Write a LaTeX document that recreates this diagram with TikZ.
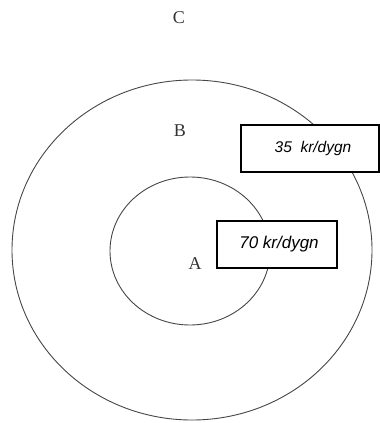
\documentclass[tikz,border=0pt]{standalone}
\usepackage{fontspec}
\setmainfont{Liberation Serif}
\setsansfont{Liberation Sans}
\usetikzlibrary{shapes.geometric,positioning}
\definecolor{ringgray}{RGB}{70, 70, 70}

\begin{document}
\begin{tikzpicture}[x=1pt, y=-1pt,
    ring/.style={draw=ringgray, line width=0.9pt, ellipse, inner sep=0pt},
    zone/.style={font=\fontsize{18}{20}\selectfont, text=black!80},
    pricebox/.style={draw=black, line width=1.6pt, fill=white, rectangle, inner sep=0pt}]
    \useasboundingbox (0,0) rectangle (380,423);
    \node [ring, minimum width=360pt, minimum height=340pt] (outer) at (192,250) {};
    \node [ring, minimum width=160pt, minimum height=148pt] (inner) at (190,251) {};

    \node [zone] (zoneC) at (179,18) {C};
    \node [zone] (zoneB) at (180,131) {B};
    \node [zone] (zoneA) at (195,264) {A};

    \node [pricebox, minimum width=138pt, minimum height=47pt, font={\sffamily\itshape\fontsize{15.5}{17}\selectfont}] (priceB) at (310,148.5) {\hspace*{6pt}35\ \ kr/dygn};
    \node [pricebox, minimum width=120pt, minimum height=47pt, font={\sffamily\itshape\fontsize{17}{19}\selectfont}] (priceA) at (277,244.5) {\hspace*{4pt}70 kr/dygn};
\end{tikzpicture}
\end{document}
